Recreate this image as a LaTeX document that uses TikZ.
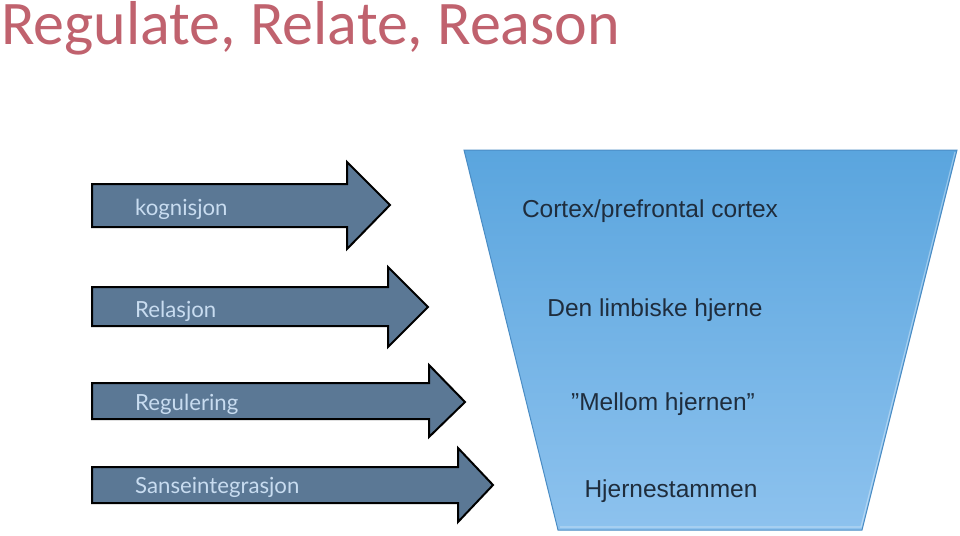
\documentclass[tikz,border=0pt]{standalone}
\usepackage{fontspec}
\setmainfont{Liberation Sans}
\newfontfamily\titlefont{Carlito}
\newfontfamily\labelfont{Lato}
\definecolor{titlecol}{HTML}{C0626E}
\definecolor{arrowfill}{HTML}{5B7895}
\definecolor{labelcol}{HTML}{C8DCF0}
\definecolor{trtop}{HTML}{5AA5DE}
\definecolor{trbot}{HTML}{8DC2EE}
\definecolor{tredge}{HTML}{4A8CC4}
\definecolor{trtext}{HTML}{1F2D3D}
\tikzset{
  bigarrow/.style={fill=arrowfill, draw=black, line width=2pt, line join=miter},
  arrowlabel/.style={anchor=base west, inner sep=0pt, text=labelcol, font=\labelfont\fontsize{22.2}{22.2}\selectfont},
  layerlabel/.style={anchor=base, inner sep=0pt, text=trtext, font=\fontsize{24.5}{24.5}\selectfont},
}
\begin{document}
\begin{tikzpicture}[x=1pt,y=-1pt]
\useasboundingbox (0,0) rectangle (960,535);
% title
\node[anchor=base west, inner sep=0pt, text=titlecol, font=\titlefont\fontsize{62}{62}\selectfont] (title) at (1,45) {Regulate, Relate, Reason};
% funnel
\path[top color=trtop, bottom color=trbot, draw=tredge, line width=1pt]
  (464,150) -- (957,150) -- (862,530) -- (558,530) -- cycle;
\draw[white, opacity=0.35, line width=1.2pt] (955,152) -- (861,527) -- (560,527);
% arrows
\draw[bigarrow] (92,184) -- (347,184) -- (347,162) -- (390,205) -- (347,249) -- (347,227) -- (92,227) -- cycle;
\draw[bigarrow] (92,287) -- (388,287) -- (388,267) -- (428,307) -- (388,347) -- (388,326) -- (92,326) -- cycle;
\draw[bigarrow] (92,383) -- (429,383) -- (429,365) -- (465,402) -- (429,437) -- (429,419) -- (92,419) -- cycle;
\draw[bigarrow] (92,467) -- (458,467) -- (458,448) -- (493,485) -- (458,522) -- (458,503) -- (92,503) -- cycle;
% arrow labels
\node[arrowlabel] (l1) at (135,215) {kognisjon};
\node[arrowlabel] (l2) at (135,317) {Relasjon};
\node[arrowlabel] (l3) at (135,410) {Regulering};
\node[arrowlabel] (l4) at (135,493) {Sanseintegrasjon};
% layer labels
\node[layerlabel] (c1) at (650,217) {Cortex/prefrontal cortex};
\node[layerlabel] (c2) at (655,316) {Den limbiske hjerne};
\node[layerlabel] (c3) at (663,410) {\textquotedblright Mellom hjernen\textquotedblright};
\node[layerlabel] (c4) at (671,497) {Hjernestammen};
\end{tikzpicture}
\end{document}
